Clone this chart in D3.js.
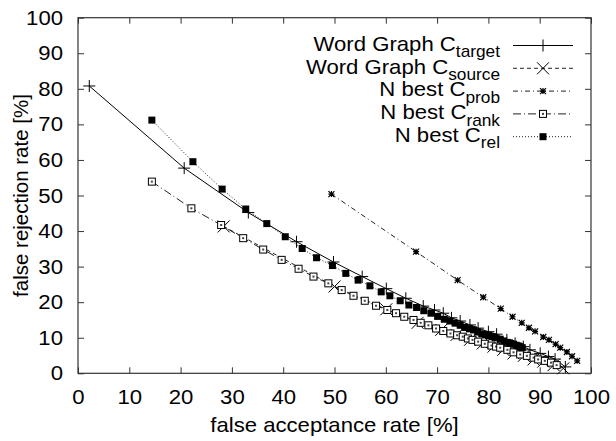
<!DOCTYPE html>
<html><head><meta charset="utf-8">
<script src="https://cdn.jsdelivr.net/npm/d3@7"></script>
<style>
html,body{margin:0;padding:0;background:#fff;}
svg{display:block;}
text{font-family:"Liberation Sans",Arial,Helvetica,sans-serif;fill:#000;}
</style></head>
<body>
<svg id="c" width="616" height="441"></svg>
<script>
// ---- data (false acceptance %, false rejection %) ----
const wgTarget = [[2.2,80.8],[20.7,57.7],[33.2,45.2],[42.6,37.0],[49.8,31.3],[55.4,27.2],[60.1,23.8],[63.9,21.1],[67.3,18.9],[69.5,17.8],[71.2,16.9],[72.8,15.6],[74.5,14.7],[76.4,13.6],[78.0,12.7],[80.0,11.7],[81.6,11.0],[83.6,9.4],[85.2,8.4],[86.8,7.5],[88.1,6.6],[90.1,5.6],[91.7,4.7],[93.0,4.0],[95.0,1.8]];
const wgSource = [[28.4,41.3],[50.0,24.4],[60.1,18.0],[66.2,14.2],[70.8,12.2],[73.8,10.8],[76.4,9.4],[78.9,8.4],[81.0,7.5],[82.9,6.6],[84.9,5.6],[86.9,4.9],[88.8,3.9],[90.7,3.3],[92.7,2.3],[94.6,1.4]];
const nbProb = [[49.4,50.4],[65.9,34.2],[74.0,26.2],[79.0,21.4],[82.4,18.2],[84.7,15.9],[86.5,14.2],[87.9,12.8],[89.1,11.8],[90.7,10.2],[91.8,9.4],[93.1,8.2],[94.0,7.2],[95.3,6.0],[96.3,4.8],[97.3,3.5]];
const nbRank = [[14.4,53.9],[22.1,46.4],[27.9,41.7],[32.2,38.0],[36.1,34.8],[39.7,31.9],[43.0,29.4],[45.9,27.2],[48.8,25.3],[51.4,23.4],[53.7,21.8],[55.9,20.4],[58.1,19.0],[60.3,17.8],[62.0,16.9],[63.6,15.9],[65.4,15.0],[66.8,14.2],[68.3,13.5],[69.8,12.6],[71.2,11.9],[72.6,11.2],[73.9,10.7],[75.0,10.3],[76.0,9.8],[76.9,9.4],[78.0,8.9],[79.3,8.3],[80.6,7.8],[81.5,7.5],[82.3,7.2],[83.7,6.6],[84.9,5.9],[86.2,5.3],[87.5,4.9],[88.8,4.4],[89.7,3.9],[91.0,3.5],[92.2,3.0],[93.3,2.3]];
const nbRel = [[14.4,71.2],[22.4,59.5],[28.1,51.8],[32.7,46.2],[36.8,42.1],[40.4,38.4],[43.7,35.1],[46.5,32.5],[49.6,30.3],[52.2,28.1],[54.6,26.2],[56.9,24.6],[59.1,22.9],[60.8,21.8],[62.8,20.4],[64.5,19.2],[66.0,18.5],[67.4,17.6],[68.8,16.9],[70.1,16.0],[71.4,15.2],[72.5,14.7],[73.5,14.1],[74.5,13.5],[75.4,12.9],[76.3,12.5],[77.1,12.2],[77.9,11.6],[78.7,11.1],[79.4,10.8],[80.0,10.6],[80.7,10.3],[81.3,10.0],[82.3,9.6],[83.0,9.1],[83.7,8.7],[84.3,8.4],[84.9,8.2],[85.4,7.9],[85.8,7.7],[86.2,7.5],[86.6,7.2]];

const seriesNames = [["Word Graph C","target"],["Word Graph C","source"],["N best C","prob"],["N best C","rank"],["N best C","rel"]];
const xTicks = [0,10,20,30,40,50,60,70,80,90,100];
const yTicks = [0,10,20,30,40,50,60,70,80,90,100];
const xTitle = "false acceptance rate [%]";
const yTitle = "false rejection rate [%]";

// ---- layout ----
const L = 78, R = 591, T = 17.7, B = 373.3;
const FS = 20.5, SX = 1.08;
const svg = d3.select("#c");
const x = d3.scaleLinear().domain([0,100]).range([L,R]);
const y = d3.scaleLinear().domain([0,100]).range([B,T]);

const series = [
  {data: wgTarget, dash: null,        marker: "plus",   stroke:"#000"},
  {data: wgSource, dash: "4,3",       marker: "cross",  stroke:"#222"},
  {data: nbProb,   dash: "5,3,1,3",   marker: "star",   stroke:"#222"},
  {data: nbRank,   dash: "8,3,1,3",   marker: "osq",    stroke:"#222"},
  {data: nbRel,    dash: "1,2",       marker: "fsq",    stroke:"#222"}
];

// axes
const fmt = d3.format("d");
const gx = svg.append("g").attr("transform",`translate(0,${B})`)
  .call(d3.axisBottom(x).tickValues(xTicks).tickFormat(fmt).tickSizeInner(-6).tickSizeOuter(0).tickPadding(16));
const gxt = svg.append("g").attr("transform",`translate(0,${T})`)
  .call(d3.axisTop(x).tickValues(xTicks).tickFormat("").tickSizeInner(-6).tickSizeOuter(0));
const gy = svg.append("g").attr("transform",`translate(${L},0)`)
  .call(d3.axisLeft(y).tickValues(yTicks).tickFormat(fmt).tickSizeInner(-6).tickSizeOuter(0).tickPadding(15));
const gyr = svg.append("g").attr("transform",`translate(${R},0)`)
  .call(d3.axisRight(y).tickValues(yTicks).tickFormat("").tickSizeInner(-6).tickSizeOuter(0));
[gx,gxt,gy,gyr].forEach(g=>{
  g.select(".domain").remove();
  g.selectAll("line").attr("stroke","#333");
  g.selectAll("text").attr("font-size",FS).attr("font-family","Liberation Sans, Arial, sans-serif").attr("fill","#000");
});
gx.selectAll("text").attr("transform",`scale(${SX},1)`);
gy.selectAll("text").attr("x",-15/SX).attr("transform",`scale(${SX},1)`);
svg.append("rect").attr("x",L).attr("y",T).attr("width",R-L).attr("height",B-T)
  .attr("fill","none").attr("stroke","#333").attr("stroke-width",1.2);

// titles
svg.append("text").attr("transform",`translate(${(L+R)/2},432) scale(${SX},1)`).attr("text-anchor","middle").attr("font-size",FS).text(xTitle);
svg.append("text").attr("transform",`translate(28,${(T+B)/2}) rotate(-90)`).attr("text-anchor","middle").attr("font-size",FS).text(yTitle);

// markers
function drawMarker(g, kind, cx, cy){
  if(kind==="plus"){
    g.append("path").attr("d",`M${cx-6},${cy}H${cx+6}M${cx},${cy-6}V${cy+6}`).attr("stroke","#000").attr("stroke-width",1).attr("fill","none");
  } else if(kind==="cross"){
    g.append("path").attr("d",`M${cx-6},${cy-6}L${cx+6},${cy+6}M${cx-6},${cy+6}L${cx+6},${cy-6}`).attr("stroke","#000").attr("stroke-width",1).attr("fill","none");
  } else if(kind==="star"){
    const s=3;
    g.append("path").attr("d",`M${cx-s},${cy}H${cx+s}M${cx},${cy-s}V${cy+s}M${cx-s},${cy-s}L${cx+s},${cy+s}M${cx-s},${cy+s}L${cx+s},${cy-s}`).attr("stroke","#000").attr("stroke-width",1.2).attr("fill","none");
  } else if(kind==="osq"){
    g.append("rect").attr("x",cx-3.5).attr("y",cy-3.5).attr("width",7).attr("height",7).attr("fill","#fff").attr("stroke","#000").attr("stroke-width",1);
    g.append("rect").attr("x",cx-1).attr("y",cy-1).attr("width",2).attr("height",2).attr("fill","#444");
  } else if(kind==="fsq"){
    g.append("rect").attr("x",cx-3.5).attr("y",cy-3.5).attr("width",7).attr("height",7).attr("fill","#000");
  }
}

const line = d3.line().x(d=>x(d[0])).y(d=>y(d[1]));
series.forEach(s=>{
  const g = svg.append("g");
  g.append("path").datum(s.data).attr("d",line).attr("fill","none")
    .attr("stroke",s.stroke).attr("stroke-width",1).attr("stroke-dasharray",s.dash);
  s.data.forEach(d=>drawMarker(g, s.marker, x(d[0]), y(d[1])));
});

// legend
const legX = 500, legL1 = 513, legL2 = 573, legY0 = 45.5, legDY = 22.8;
series.forEach((s,i)=>{
  const cy = legY0 + i*legDY;
  const t = svg.append("text").attr("transform",`translate(${legX},${cy+5.2}) scale(${SX},1)`).attr("text-anchor","end").attr("font-size",FS);
  t.append("tspan").text(seriesNames[i][0]);
  t.append("tspan").attr("dy",6.5).attr("font-size",16).text(seriesNames[i][1]);
  const g = svg.append("g");
  g.append("line").attr("x1",legL1).attr("x2",legL2).attr("y1",cy).attr("y2",cy)
    .attr("stroke",s.stroke).attr("stroke-width",1).attr("stroke-dasharray",s.dash);
  drawMarker(g, s.marker, (legL1+legL2)/2, cy);
});
</script>
</body></html>
